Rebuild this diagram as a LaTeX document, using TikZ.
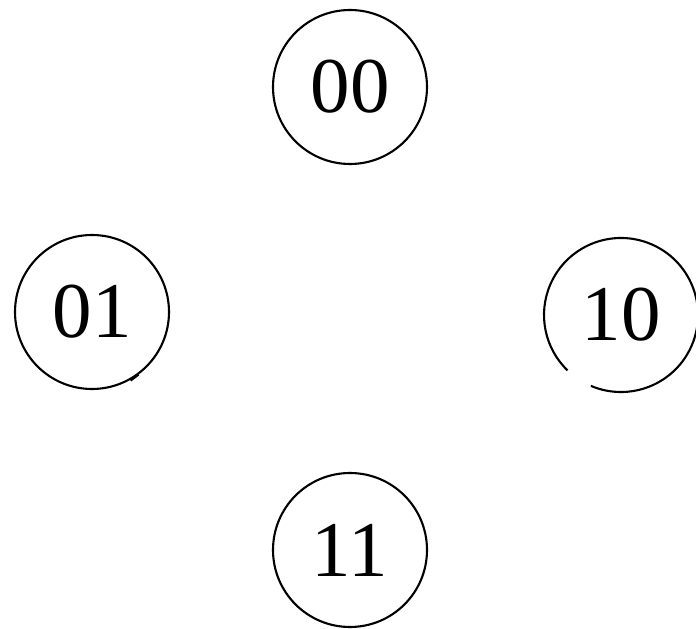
\documentclass[tikz,border=0pt]{standalone}
\usepackage{fontspec}
\setmainfont{Liberation Serif}
\begin{document}
\begin{tikzpicture}[x=1pt,y=1pt,
  statebox/.style={circle,draw=black,line width=2.1pt,minimum size=154pt,inner sep=0pt,font=\fontsize{79}{79}\selectfont},
  plainbox/.style={circle,minimum size=154pt,inner sep=0pt,font=\fontsize{79}{79}\selectfont}]
\useasboundingbox (0,0) rectangle (696,629);
\node[statebox] (s00) at (350,542) {00};
\node[statebox] (s01) at (92,317) {01};
\node[plainbox] (s10) at (621,314) {10};
\node[statebox] (s11) at (350,79) {11};
% circle of 10 with a small gap at lower left
\draw[line width=2.1pt] (s10.center) ++(247:77) arc[start angle=247,end angle=586,radius=77];
% small tick on 01
\draw[line width=2.4pt] (s01.-57) ++(-4,-3) -- ++(8,6);
\end{tikzpicture}
\end{document}
